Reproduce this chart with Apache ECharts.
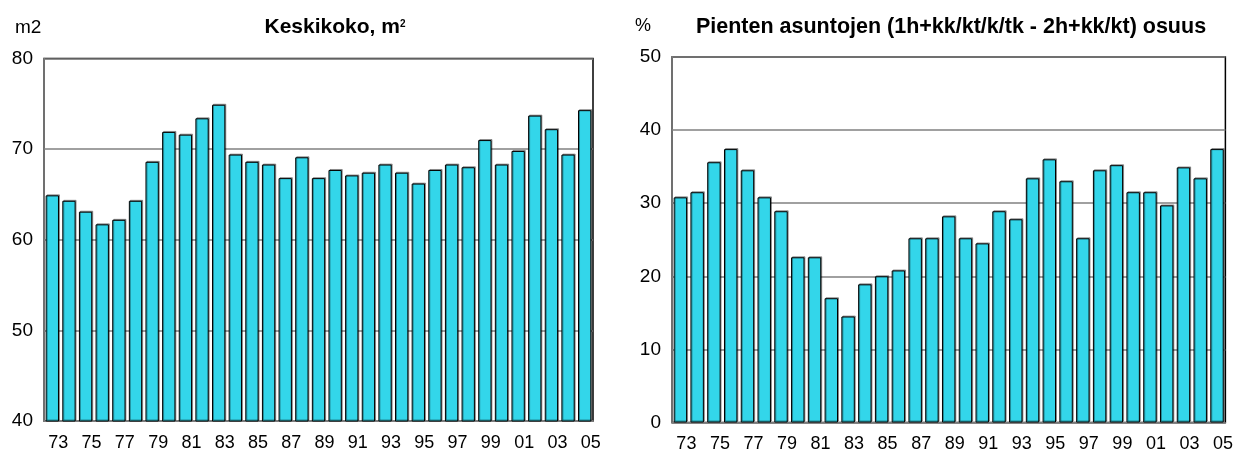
<!DOCTYPE html>
<html>
<head>
<meta charset="utf-8">
<script src="https://cdn.jsdelivr.net/npm/echarts@6/dist/echarts.min.js"></script>
<style>
html,body{margin:0;padding:0;background:#fff;}
#c{width:1236px;height:455px;}
</style>
</head>
<body>
<div id="c"></div>
<script>
const years = ['73','74','75','76','77','78','79','80','81','82','83','84','85','86','87','88','89','90','91','92','93','94','95','96','97','98','99','00','01','02','03','04','05'];
const avgSize = [64.9,64.3,63.1,61.7,62.2,64.3,68.6,71.9,71.6,73.4,74.9,69.4,68.6,68.3,66.8,69.1,66.8,67.7,67.1,67.4,68.3,67.4,66.2,67.7,68.3,68.0,71.0,68.3,69.8,73.7,72.2,69.4,74.3];
const smallShare = [30.8,31.5,35.6,37.4,34.5,30.8,28.9,22.6,22.6,17.0,14.5,18.9,20.0,20.8,25.2,25.2,28.2,25.2,24.5,28.9,27.8,33.4,36.0,33.0,25.2,34.5,35.2,31.5,31.5,29.7,34.9,33.4,37.4];
const leftTicks = {min:40, max:80, interval:10};
const rightTicks = {min:0, max:50, interval:10};

const font = 'Liberation Sans, Arial, sans-serif';
const barStyle = {color:'#33D6EA', borderColor:'#000', borderWidth:1,
  shadowColor:'rgba(0,0,0,0.35)', shadowOffsetX:1, shadowOffsetY:-1, shadowBlur:0};

function xAxis(gi){
  return {type:'category', gridIndex:gi, data:years,
    axisLine:{lineStyle:{color:'#808080', width:1.5}},
    axisTick:{alignWithLabel:true, interval:0, length:5, lineStyle:{color:'#606060'}},
    axisLabel:{interval:1, color:'#000', fontSize:18, fontFamily:font, margin:13, padding:[0,0,0,12]}};
}
function yAxis(gi, t){
  return {type:'value', gridIndex:gi, min:t.min, max:t.max, interval:t.interval,
    axisLine:{show:true, lineStyle:{color:'#808080', width:1.5}},
    axisTick:{show:false},
    axisLabel:{color:'#000', fontSize:19, fontFamily:font, margin:11, padding:[4,0,0,0]},
    splitLine:{lineStyle:{color:'#808080', width:1.5}}};
}

const chart = echarts.init(document.getElementById('c'));
chart.setOption({
  animation:false,
  title:[
    {text:'Keskikoko, m{s|2}', left:330, top:12, textAlign:'center',
      textStyle:{fontSize:21, fontWeight:'bold', color:'#000', fontFamily:font,
        rich:{s:{fontSize:10, fontWeight:'bold', color:'#000', fontFamily:font, padding:[0,0,7,0]}}}},
    {text:'m2', left:10, top:13, textStyle:{fontSize:19, fontWeight:'normal', color:'#000', fontFamily:font}},
    {text:'Pienten asuntojen (1h+kk/kt/k/tk - 2h+kk/kt) osuus', left:946, top:11, textAlign:'center',
      textStyle:{fontSize:21.5, fontWeight:'bold', color:'#000', fontFamily:font}},
    {text:'%', left:630, top:12, textStyle:{fontSize:18, fontWeight:'normal', color:'#000', fontFamily:font}}
  ],
  grid:[
    {left:44, top:58.5, width:549, height:362.5, show:true, borderColor:'#000', borderWidth:1.5, containLabel:false},
    {left:672, top:57, width:554, height:365.5, show:true, borderColor:'#000', borderWidth:1.5, containLabel:false}
  ],
  xAxis:[xAxis(0), xAxis(1)],
  yAxis:[yAxis(0, leftTicks), yAxis(1, rightTicks)],
  series:[
    {type:'bar', xAxisIndex:0, yAxisIndex:0, data:avgSize, barCategoryGap:'20%', itemStyle:barStyle},
    {type:'bar', xAxisIndex:1, yAxisIndex:1, data:smallShare, barCategoryGap:'20%', itemStyle:barStyle}
  ]
});
</script>
</body>
</html>
